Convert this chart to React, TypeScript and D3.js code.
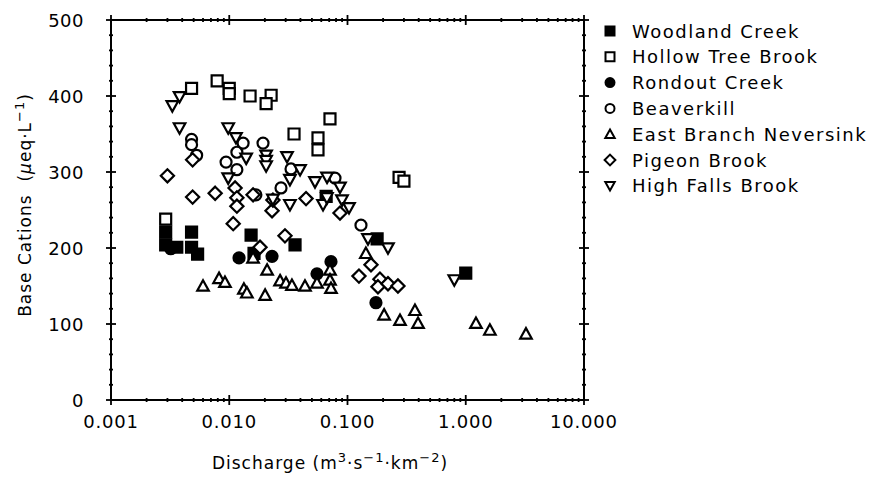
import React from "react";
import * as d3 from "d3";

// ---- data (discharge m3/s/km2, base cations ueq/L) ----
const woodlandCreek: [number, number][] = [
  [0.0029, 221], [0.0029, 204], [0.0036, 201], [0.0048, 221], [0.0048, 201], [0.0054, 192],
  [0.0153, 217], [0.0162, 193], [0.036, 204], [0.066, 268], [0.178, 212], [1.0, 167],
];
const hollowTreeBrook: [number, number][] = [
  [0.0029, 238], [0.0048, 410], [0.0079, 420], [0.01, 410], [0.01, 403], [0.015, 400],
  [0.0226, 401], [0.0205, 390], [0.0353, 350], [0.0563, 345], [0.0563, 329], [0.0711, 370],
  [0.273, 293], [0.3, 288],
];
const rondoutCreek: [number, number][] = [
  [0.0032, 199], [0.0121, 187], [0.023, 189], [0.0552, 166], [0.0725, 182], [0.174, 128],
];
const beaverkill: [number, number][] = [
  [0.0048, 343], [0.0048, 336], [0.0053, 322], [0.0094, 313], [0.0116, 303], [0.0131, 338],
  [0.0116, 326], [0.0193, 338], [0.0333, 304], [0.0274, 279], [0.0168, 270], [0.0784, 292],
  [0.13, 230],
];
const eastBranchNeversink: [number, number][] = [
  [0.006, 150], [0.0082, 160], [0.0092, 155], [0.0133, 146], [0.0141, 141], [0.0201, 138],
  [0.0209, 171], [0.0159, 187], [0.0269, 157], [0.0302, 154], [0.0339, 151], [0.0437, 150],
  [0.0552, 154], [0.0711, 171], [0.0711, 158], [0.0725, 147], [0.143, 193], [0.204, 112],
  [0.278, 105], [0.372, 118], [0.395, 101], [1.22, 101], [1.6, 92], [3.23, 87],
];
const pigeonBrook: [number, number][] = [
  [0.003, 295], [0.0049, 316], [0.0049, 267], [0.0076, 272], [0.0112, 279], [0.0116, 266],
  [0.0116, 255], [0.0108, 232], [0.0182, 201], [0.023, 249], [0.0296, 216], [0.0159, 270],
  [0.0234, 263], [0.0446, 265], [0.0864, 246], [0.158, 178], [0.125, 163], [0.188, 159],
  [0.181, 149], [0.22, 153], [0.267, 150],
];
const highFallsBrook: [number, number][] = [
  [0.0033, 387], [0.0038, 399], [0.0038, 358], [0.0098, 358], [0.0114, 345], [0.0139, 318],
  [0.0098, 292], [0.0205, 322], [0.0205, 315], [0.0205, 308], [0.0234, 264], [0.0308, 320],
  [0.0397, 303], [0.0326, 290], [0.0531, 287], [0.0671, 293], [0.0864, 280], [0.0899, 263],
  [0.103, 253], [0.0621, 257], [0.0326, 257], [0.149, 212], [0.22, 200], [0.8, 158],
  [0.067, 266],
];

const seriesNames = [
  "Woodland Creek", "Hollow Tree Brook", "Rondout Creek", "Beaverkill",
  "East Branch Neversink", "Pigeon Brook", "High Falls Brook",
];
const seriesData = [woodlandCreek, hollowTreeBrook, rondoutCreek, beaverkill, eastBranchNeversink, pigeonBrook, highFallsBrook];
const seriesShapes = ["square", "square", "circle", "circle", "triangle", "diamond", "triangleDown"];
const seriesFilled = [true, false, true, false, false, false, false];

const xMajorTicks = [0.001, 0.01, 0.1, 1, 10];
const xTickLabels = ["0.001", "0.010", "0.100", "1.000", "10.000"];
const yMajorTicks = [0, 100, 200, 300, 400, 500];

const FONT = "'DejaVu Sans', sans-serif";

function shapePath(shape: string, s: number): string {
  const h = s / 2;
  switch (shape) {
    case "square":
      return `M${-h},${-h}H${h}V${h}H${-h}Z`;
    case "circle":
      return `M${h},0A${h},${h} 0 1,1 ${-h},0A${h},${h} 0 1,1 ${h},0Z`;
    case "triangle":
      return `M0,${-h * 1.05}L${h * 1.05},${h * 0.85}L${-h * 1.05},${h * 0.85}Z`;
    case "triangleDown":
      return `M0,${h * 1.05}L${h * 1.05},${-h * 0.85}L${-h * 1.05},${-h * 0.85}Z`;
    case "diamond":
      return `M0,${-h * 1.2}L${h * 1.2},0L0,${h * 1.2}L${-h * 1.2},0Z`;
  }
  return "";
}

export default function App() {
  const left = 111, right = 584, top = 20, bottom = 400;
  const x = d3.scaleLog().domain([0.001, 10]).range([left, right]);
  const y = d3.scaleLinear().domain([0, 500]).range([bottom, top]);

  const xMinor: number[] = [];
  for (let e = -3; e < 1; e++) for (let k = 2; k <= 9; k++) xMinor.push(k * Math.pow(10, e));
  const yMinor = d3.range(0, 501, 20).filter((v) => v % 100 !== 0);

  const stroke = "#000";
  const ticks: JSX.Element[] = [];
  xMajorTicks.forEach((v, i) => {
    const px = x(v);
    ticks.push(<line key={`xb${i}`} x1={px} x2={px} y1={bottom - 5} y2={bottom + 5} stroke={stroke} strokeWidth={1.8} />);
    ticks.push(<line key={`xt${i}`} x1={px} x2={px} y1={top - 5} y2={top + 5} stroke={stroke} strokeWidth={1.8} />);
  });
  xMinor.forEach((v, i) => {
    const px = x(v);
    ticks.push(<line key={`xmb${i}`} x1={px} x2={px} y1={bottom - 2} y2={bottom + 2} stroke={stroke} strokeWidth={1.8} />);
    ticks.push(<line key={`xmt${i}`} x1={px} x2={px} y1={top - 2} y2={top + 2} stroke={stroke} strokeWidth={1.8} />);
  });
  yMajorTicks.forEach((v, i) => {
    const py = y(v);
    ticks.push(<line key={`yl${i}`} x1={left - 5} x2={left + 5} y1={py} y2={py} stroke={stroke} strokeWidth={1.8} />);
    ticks.push(<line key={`yr${i}`} x1={right - 5} x2={right + 5} y1={py} y2={py} stroke={stroke} strokeWidth={1.8} />);
  });
  yMinor.forEach((v, i) => {
    const py = y(v);
    ticks.push(<line key={`yml${i}`} x1={left - 2} x2={left + 2} y1={py} y2={py} stroke={stroke} strokeWidth={1.8} />);
    ticks.push(<line key={`ymr${i}`} x1={right - 2} x2={right + 2} y1={py} y2={py} stroke={stroke} strokeWidth={1.8} />);
  });

  const legendX = 610;
  const legendY0 = 31;
  const legendDy = 25.8;

  return (
    <svg width={872} height={482} style={{ position: "absolute", left: 0, top: 0, background: "#fff" }} fontFamily={FONT}>
      <rect x={0} y={0} width={872} height={482} fill="#fff" />
      <rect x={left} y={top} width={right - left} height={bottom - top} fill="none" stroke={stroke} strokeWidth={2} />
      {ticks}
      {xMajorTicks.map((v, i) => (
        <text key={`xl${i}`} x={x(v)} y={428} textAnchor="middle" fontSize={18} letterSpacing={0.8}>
          {xTickLabels[i]}
        </text>
      ))}
      {yMajorTicks.map((v, i) => (
        <text key={`ylb${i}`} x={84} y={y(v) + 6.5} textAnchor="end" fontSize={18} letterSpacing={0.5}>
          {String(v)}
        </text>
      ))}
      <text x={330} y={469} textAnchor="middle" fontSize={17} letterSpacing={1}>
        Discharge (m<tspan dy={-7} fontSize={13}>3</tspan>
        <tspan dy={7}>·s</tspan>
        <tspan dy={-7} fontSize={13}>−1</tspan>
        <tspan dy={7}>·km</tspan>
        <tspan dy={-7} fontSize={13}>−2</tspan>
        <tspan dy={7}>)</tspan>
      </text>
      <text transform={`translate(31,205) rotate(-90)`} textAnchor="middle" fontSize={17} letterSpacing={1}>
        Base Cations{"\u00a0\u00a0"}(<tspan fontStyle="italic">μ</tspan>eq·L
        <tspan dy={-7} fontSize={13}>−1</tspan>
        <tspan dy={7}>)</tspan>
      </text>
      {seriesData.map((data, si) => (
        <g key={`s${si}`}>
          {data.map((d, i) => (
            <path
              key={i}
              d={shapePath(seriesShapes[si], 11)}
              transform={`translate(${x(d[0])},${y(d[1])})`}
              fill={seriesFilled[si] ? "#000" : "#fff"}
              stroke="#000"
              strokeWidth={2.2}
            />
          ))}
        </g>
      ))}
      {seriesNames.map((name, i) => (
        <g key={`lg${i}`} transform={`translate(0,${legendY0 + i * legendDy})`}>
          <path
            d={shapePath(seriesShapes[i], 9)}
            transform={`translate(${legendX},0)`}
            fill={seriesFilled[i] ? "#000" : "#fff"}
            stroke="#000"
            strokeWidth={2}
          />
          <text x={632} y={6.5} fontSize={18} letterSpacing={1.5}>
            {name}
          </text>
        </g>
      ))}
    </svg>
  );
}
